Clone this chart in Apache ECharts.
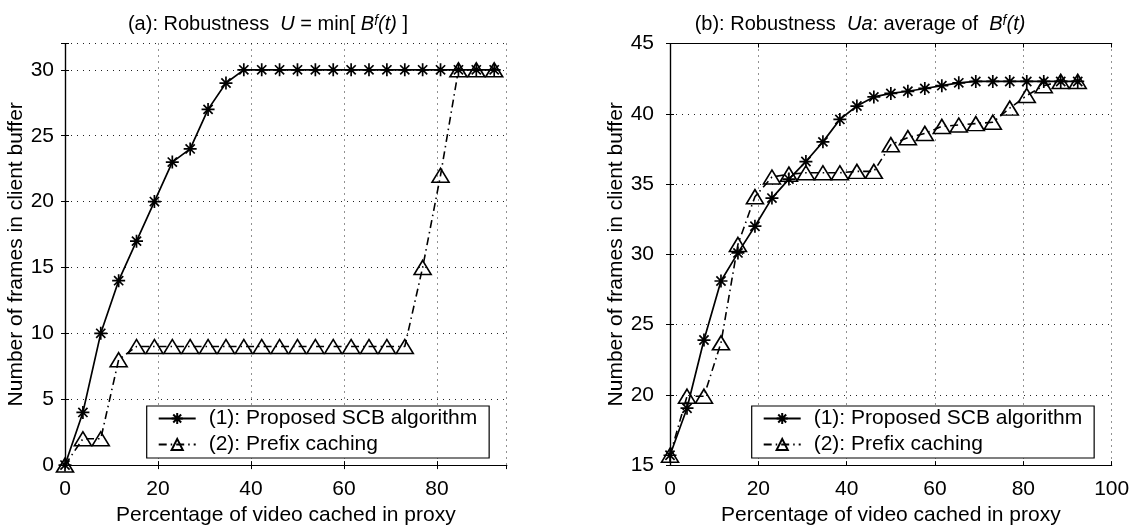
<!DOCTYPE html>
<html>
<head>
<meta charset="utf-8">
<script src="https://cdn.jsdelivr.net/npm/echarts@6/dist/echarts.min.js"></script>
<style>html,body{margin:0;padding:0;background:#fff;}#c{width:1135px;height:531px;}</style>
</head>
<body>
<div id="c"></div>
<script>
// ---- data ----
const xPct = [0, 3.85, 7.69, 11.54, 15.38, 19.23, 23.08, 26.92, 30.77, 34.62, 38.46, 42.31, 46.15, 50.0, 53.85, 57.69, 61.54, 65.38, 69.23, 73.08, 76.92, 80.77, 84.62, 88.46, 92.31];
const scbMin    = [0, 4, 10, 14, 17, 20, 23, 24, 27, 29, 30, 30, 30, 30, 30, 30, 30, 30, 30, 30, 30, 30, 30, 30, 30];
const prefixMin = [0, 2, 2, 8, 9, 9, 9, 9, 9, 9, 9, 9, 9, 9, 9, 9, 9, 9, 9, 9, 15, 22, 30, 30, 30];
const scbAvg    = [15.7, 19.05, 23.9, 28.1, 30.1, 32.0, 34.0, 35.35, 36.6, 38.0, 39.6, 40.55, 41.2, 41.45, 41.6, 41.8, 42.0, 42.2, 42.3, 42.3, 42.3, 42.3, 42.3, 42.3, 42.3];
const prefixAvg = [15.7, 19.9, 19.9, 23.7, 30.7, 34.1, 35.5, 35.7, 35.8, 35.8, 35.8, 35.9, 35.9, 37.8, 38.3, 38.6, 39.1, 39.2, 39.3, 39.4, 40.4, 41.3, 42.0, 42.3, 42.3];
const seriesNames = ['(1): Proposed SCB algorithm', '(2): Prefix caching'];
const xTitle = 'Percentage of video cached in proxy';
const yTitle = 'Number of frames in client buffer';

const FONT = 'Liberation Sans';
const pairs = (xs, ys) => xs.map((x, i) => [x, ys[i]]);
const starPath = 'path://M6,0 L6,12 M0,6 L12,6 M1.76,1.76 L10.24,10.24 M1.76,10.24 L10.24,1.76';
const triPath = 'path://M8,0 L16,13 L0,13 Z';

const chart = echarts.init(document.getElementById('c'), null, {renderer: 'canvas'});

function mainX(grid, max, showMax, margin) {
  return {
    type: 'value', gridIndex: grid, min: 0, max: max, interval: 20,
    name: xTitle, nameLocation: 'middle', nameGap: 33,
    nameTextStyle: {fontFamily: FONT, fontSize: 21, color: '#000'},
    axisLine: {show: true, lineStyle: {color: '#000', width: 1.2}},
    axisTick: {show: true, inside: true, length: 4, lineStyle: {color: '#000'}},
    axisLabel: {fontFamily: FONT, fontSize: 21, color: '#000', margin: margin, showMaxLabel: showMax},
    splitLine: {show: true, lineStyle: {color: '#222', width: 1, type: [1, 5]}}
  };
}
function topX(grid, max) {
  return {
    type: 'value', gridIndex: grid, position: 'top', min: 0, max: max, interval: 20,
    axisLine: {show: true, lineStyle: {color: '#000', width: 1.2}},
    axisTick: {show: true, inside: true, length: 4, lineStyle: {color: '#000'}},
    axisLabel: {show: false}, splitLine: {show: false}
  };
}
function mainY(grid, min, max, margin) {
  return {
    type: 'value', gridIndex: grid, min: min, max: max, interval: 5,
    name: yTitle, nameLocation: 'middle', nameGap: 38, nameRotate: 90,
    nameTextStyle: {fontFamily: FONT, fontSize: 21, color: '#000'},
    axisLine: {show: true, lineStyle: {color: '#000', width: 1.2}},
    axisTick: {show: true, inside: true, length: 4, lineStyle: {color: '#000'}},
    axisLabel: {fontFamily: FONT, fontSize: 21, color: '#000', margin: margin,
      formatter: v => (v % 5 === 0 ? String(v) : '')},
    splitLine: {show: true, lineStyle: {color: '#222', width: 1, type: [1, 5]}}
  };
}
function rightY(grid, min, max) {
  return {
    type: 'value', gridIndex: grid, position: 'right', min: min, max: max, interval: 5,
    axisLine: {show: true, lineStyle: {color: '#000', width: 1.2}},
    axisTick: {show: true, inside: true, length: 4, lineStyle: {color: '#000'}},
    axisLabel: {show: false}, splitLine: {show: false}
  };
}
function scbSeries(xi, yi, ys) {
  return {
    name: seriesNames[0], type: 'line', xAxisIndex: xi, yAxisIndex: yi,
    data: pairs(xPct, ys), symbol: starPath, symbolSize: 13,
    itemStyle: {color: 'transparent', borderColor: '#000', borderWidth: 1.7},
    lineStyle: {color: '#000', width: 1.7, type: 'solid'},
    emphasis: {disabled: true}, animation: false, z: 3
  };
}
function prefixSeries(xi, yi, ys) {
  return {
    name: seriesNames[1], type: 'line', xAxisIndex: xi, yAxisIndex: yi,
    data: pairs(xPct, ys), symbol: triPath, symbolSize: [17, 14],
    itemStyle: {color: 'transparent', borderColor: '#000', borderWidth: 1.6},
    lineStyle: {color: '#000', width: 1.6, type: [8, 4, 1.5, 4]},
    emphasis: {disabled: true}, animation: false, z: 4
  };
}
function legendAt(left) {
  return {
    orient: 'vertical', left: left, top: 406,
    data: seriesNames,
    backgroundColor: '#fff', borderColor: '#000', borderWidth: 1.2,
    padding: [2, 12, 3, 11], itemGap: 5, itemWidth: 37, itemHeight: 14,
    textStyle: {fontFamily: FONT, fontSize: 21, color: '#000', padding: [0, 0, 0, 8]},
    selectedMode: false
  };
}
const titleRich = {
  n: {fontFamily: FONT, fontSize: 20, fill: '#000'},
  i: {fontFamily: FONT, fontSize: 20, fontStyle: 'italic', fill: '#000'},
  s: {fontFamily: FONT, fontSize: 14, fontStyle: 'italic', fill: '#000', verticalAlign: 'top', lineHeight: 12}
};

chart.setOption({
  backgroundColor: '#fff',
  animation: false,
  grid: [
    {left: 65, top: 43.5, width: 441.7, height: 426, show: false},
    {left: 670, top: 43.5, width: 441.7, height: 426, show: false}
  ],
  xAxis: [mainX(0, 95, false, 14), mainX(1, 100, true, 14), topX(0, 95), topX(1, 100)],
  yAxis: [mainY(0, 0, 32, 11), mainY(1, 15, 45, 16), rightY(0, 0, 32), rightY(1, 15, 45)],
  legend: [legendAt(146.7), legendAt(751.7)],
  series: [
    scbSeries(0, 0, scbMin), prefixSeries(0, 0, prefixMin),
    scbSeries(1, 1, scbAvg), prefixSeries(1, 1, prefixAvg)
  ],
  graphic: [
    {type: 'text', x: 268, y: 24, style: {
      text: '{n|(a): Robustness  }{i|U}{n| = min[ }{i|B}{s|f}{i|(t)}{n| ]}',
      align: 'center', verticalAlign: 'middle', rich: titleRich, font: '20px ' + FONT}},
    {type: 'text', x: 860, y: 24, style: {
      text: '{n|(b): Robustness  }{i|Ua}{n|: average of  }{i|B}{s|f}{i|(t)}',
      align: 'center', verticalAlign: 'middle', rich: titleRich, font: '20px ' + FONT}}
  ]
});
</script>
</body>
</html>
